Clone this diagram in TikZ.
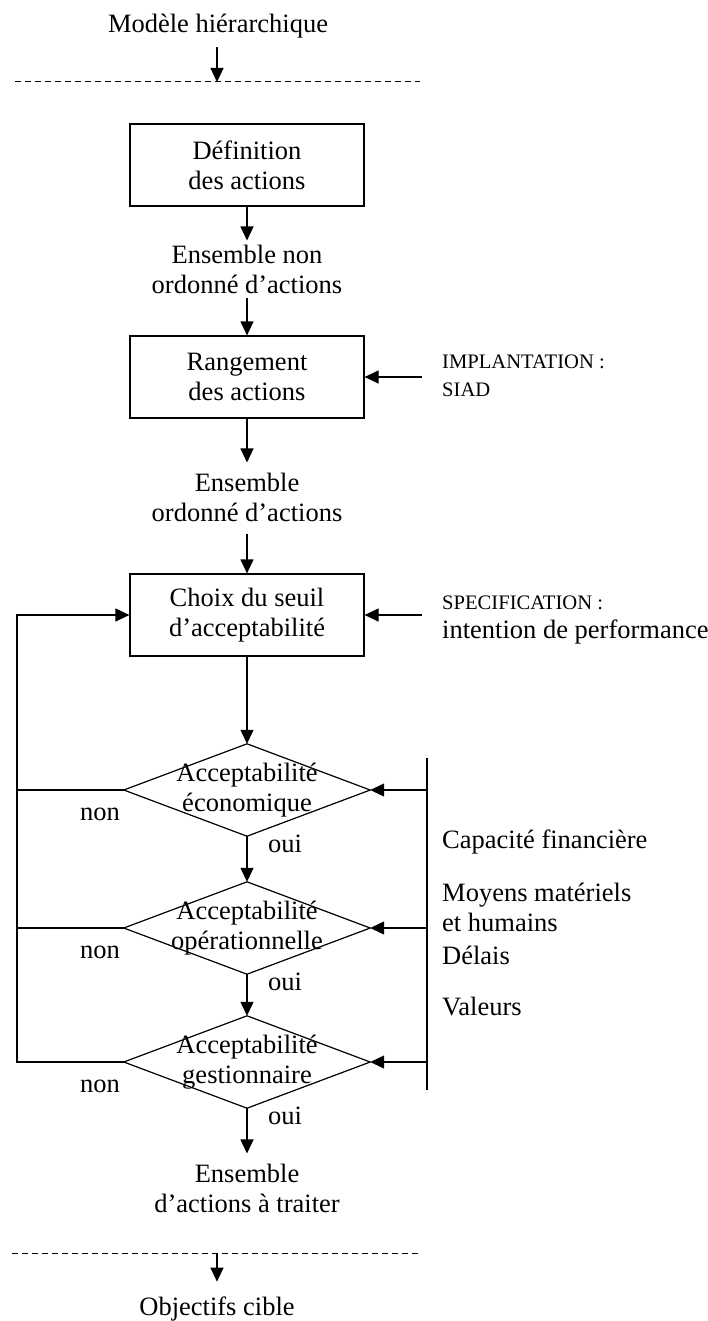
\documentclass[tikz,border=0pt]{standalone}
\usepackage{fontspec}
\setmainfont{Liberation Serif}
\usetikzlibrary{arrows.meta}
\begin{document}
\begin{tikzpicture}[x=1pt,y=-1pt,
  txt/.style={font=\fontsize{26.5}{30}\selectfont, align=center, inner sep=0pt},
  gap/.style={txt, inner sep=4pt},
  smallcap/.style={font=\fontsize{20.6}{28}\selectfont, align=left, inner sep=0pt, anchor=west},
  side/.style={font=\fontsize{26.5}{30}\selectfont, align=left, inner sep=0pt, anchor=west},
  box/.style={draw, line width=1.2pt, minimum width=234pt, minimum height=82pt, txt},
  dia/.style={minimum width=246pt, minimum height=92pt, txt},
  ln/.style={line width=1.2pt},
  arr/.style={line width=1.2pt, -{Triangle[length=14pt,width=13pt]}},
  dashln/.style={line width=1pt, dash pattern=on 6pt off 4pt}]
\useasboundingbox (0,0) rectangle (708,1321);

% top
\node[txt] (top) at (218,26) {Modèle hiérarchique};
\coordinate (ta) at (217,82);
\coordinate (da) at (15,82);
\coordinate (db) at (420,82);
\draw[dashln] (da) -- (db);
\draw[arr, shorten <=9pt] (top.south -| ta) -- (ta);

% boxes and intermediate texts
\node[box] (box1) at (247,165) {Définition\\des actions};
\node[gap] (t1) at (247,269) {Ensemble non\\ordonné d’actions};
\node[box] (box2) at (247,377) {Rangement\\des actions};
\node[gap] (t2) at (247,497) {Ensemble\\ordonné d’actions};
\node[box] (box3) at (247,615) {Choix du seuil\\d’acceptabilité};

\draw[arr] (box1) -- (t1);
\draw[arr] (t1) -- (box2);
\draw[arr, shorten >=6pt] (box2) -- (t2);
\draw[arr, shorten <=8pt] (t2) -- (box3);

% right inputs to boxes
\node[smallcap] (impl) at (442,376) {IMPLANTATION :\\SIAD};
\coordinate (i2) at (422,377);
\draw[arr] (i2) -- (box2.east);
\node[smallcap] (spec) at (442,603) {SPECIFICATION :};
\node[side] (intent) at (442,632) {intention de performance};
\coordinate (i3) at (422,615);
\draw[arr] (i3) -- (box3.east);

% diamonds
\node[dia] (d1) at (247,790) {Acceptabilité\\économique};
\node[dia] (d2) at (247,928) {Acceptabilité\\opérationnelle};
\node[dia] (d3) at (247,1062) {Acceptabilité\\gestionnaire};
\foreach \d in {d1,d2,d3}{
  \draw[ln] (\d.north) -- (\d.east) -- (\d.south) -- (\d.west) -- cycle;
}
\draw[arr] (box3) -- (d1.north);
\draw[arr] (d1.south) -- (d2.north);
\draw[arr] (d2.south) -- (d3.north);

% oui / non labels
\node[txt] (n1) at (100,814) {non};
\node[txt] (n2) at (100,952) {non};
\node[txt] (n3) at (100,1086) {non};
\node[txt] (o1) at (285,844) {oui};
\node[txt] (o2) at (285,982) {oui};
\node[txt] (o3) at (285,1116) {oui};

% left loop
\coordinate (lt) at (17,615);
\coordinate (l1) at (17,790);
\coordinate (l2) at (17,928);
\coordinate (l3) at (17,1062);
\draw[ln] (d1.west) -- (l1);
\draw[ln] (d2.west) -- (l2);
\draw[arr] (d3.west) -- (l3) -- (lt) -- (box3.west);

% right resources
\coordinate (rt) at (427,758);
\coordinate (rb) at (427,1090);
\draw[ln] (rt) -- (rb);
\coordinate (r1) at (427,790);
\coordinate (r2) at (427,928);
\coordinate (r3) at (427,1062);
\draw[arr] (r1) -- (d1.east);
\draw[arr] (r2) -- (d2.east);
\draw[arr] (r3) -- (d3.east);
\node[side] (cap) at (442,842) {Capacité financière};
\node[side] (moy) at (442,907) {Moyens matériels\\et humains};
\node[side] (del) at (442,955) {Délais};
\node[side] (val) at (442,1006) {Valeurs};

% bottom
\node[gap] (t3) at (247,1188) {Ensemble\\d’actions à traiter};
\draw[arr, shorten >=6pt] (d3.south) -- (t3);
\coordinate (ea) at (12,1253);
\coordinate (eb) at (420,1253);
\draw[dashln] (ea) -- (eb);
\coordinate (tb) at (217,1253);
\node[txt] (obj) at (217,1309) {Objectifs cible};
\draw[arr, shorten >=15pt] (tb) -- (tb |- obj.north);
\end{tikzpicture}
\end{document}
